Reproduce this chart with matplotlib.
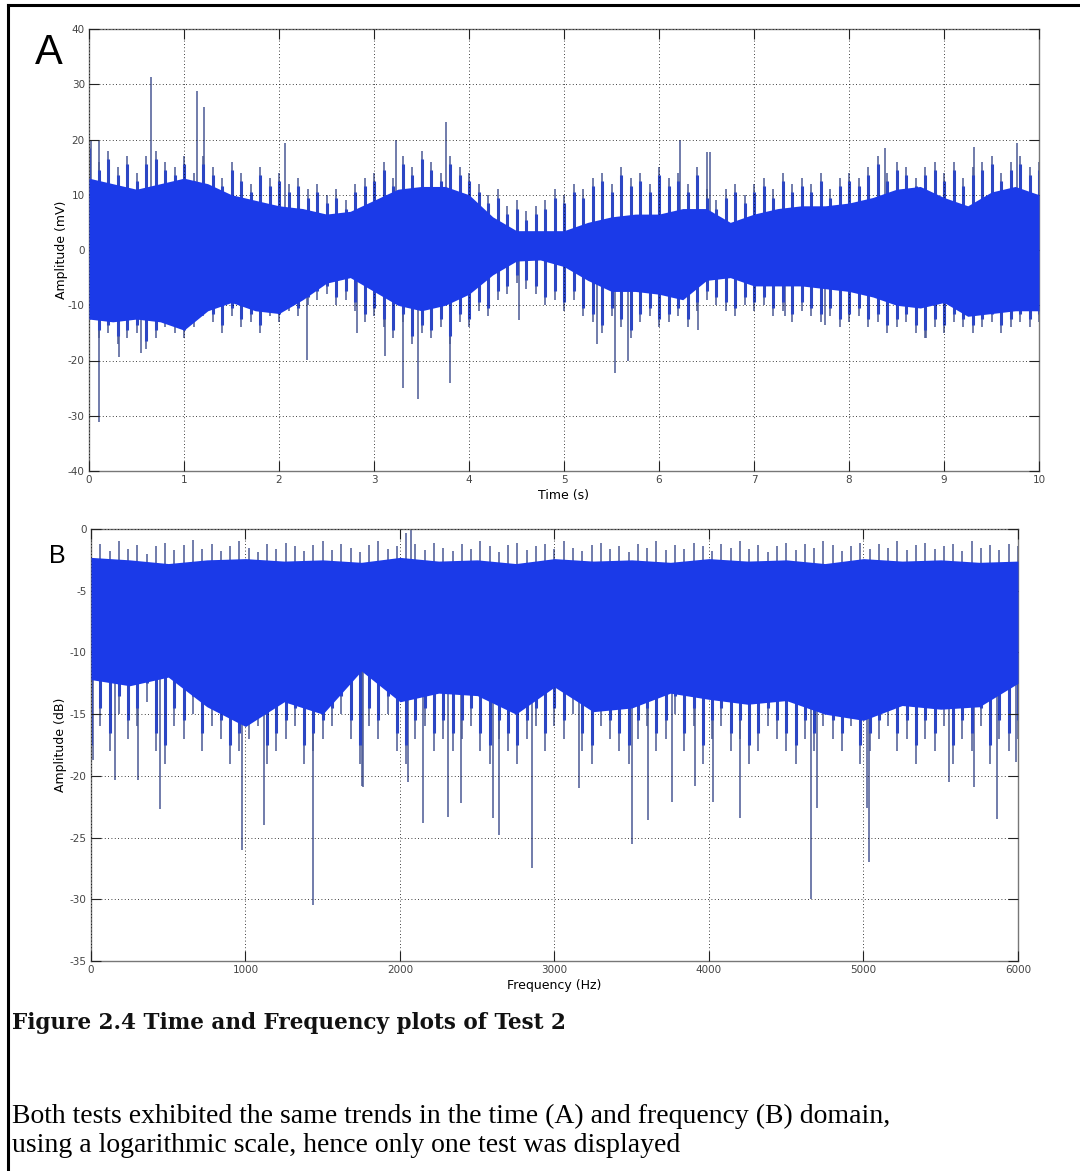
import numpy as np
import matplotlib
matplotlib.use("Agg")
import matplotlib.pyplot as plt
from matplotlib.lines import Line2D

plt.rcParams['axes.unicode_minus'] = False

# ---------------- data ----------------
# Panel A: time signal envelope, t = 0..10 step 0.25 s
a_core_t = [i * 0.25 for i in range(41)]
a_core_top = [13, 12, 11, 12, 13, 12, 10, 9, 8, 7.5, 6.5, 7, 9, 11, 11.5, 11.5, 10, 6, 3.5, 3.5,
              3.5, 5, 6, 6.5, 6.5, 7.5, 7.5, 5, 6.5, 7.5, 8, 8, 8.5, 9.5, 11, 11.5, 9.5, 8, 10.5, 11.5, 10]
a_core_bot = [-12.5, -13, -12.5, -13, -14.5, -11, -9.5, -11, -11.5, -9, -6, -5, -7.5, -10, -11, -10,
              -8, -4.5, -2, -1.8, -3, -5.5, -7.5, -7.5, -8, -9, -5.5, -5, -6.5, -6.5, -6.5, -7, -7.5,
              -8.5, -10, -10.5, -9.5, -12, -11.5, -11, -11]
# fringe sample peaks, t = 0..10 step 0.1 s
a_fr_t = [i * 0.1 for i in range(101)]
a_fr_top = [20, 16, 18, 15, 17, 14, 17, 18, 16, 15,
            17, 14, 17, 15, 13, 16, 14, 12, 15, 13,
            14, 12, 13, 11, 12, 10, 11, 9, 12, 13,
            14, 16, 13, 17, 15, 18, 16, 14, 17, 15,
            14, 12, 10, 11, 8, 9, 7, 8, 9, 11,
            10, 12, 11, 13, 14, 12, 15, 13, 14, 12,
            15, 13, 14, 12, 15, 11, 9, 11, 12, 10,
            12, 13, 11, 14, 12, 13, 12, 14, 11, 13,
            14, 13, 15, 17, 14, 16, 15, 13, 15, 16,
            14, 16, 13, 15, 16, 17, 14, 16, 17, 15,
            16]
a_fr_bot = [-14, -16, -15, -17, -16, -15, -18, -16, -14, -15,
            -16, -14, -12, -13, -15, -12, -14, -13, -15, -12,
            -13, -11, -12, -10, -9, -8, -10, -9, -11, -13,
            -12, -14, -16, -13, -17, -15, -16, -14, -17, -13,
            -14, -11, -12, -9, -8, -6, -7, -8, -10, -9,
            -11, -9, -12, -13, -15, -12, -14, -16, -13, -12,
            -14, -13, -12, -14, -11, -9, -10, -11, -12, -10,
            -11, -10, -12, -11, -13, -11, -12, -13, -12, -14,
            -13, -12, -14, -13, -15, -14, -13, -15, -16, -14,
            -15, -13, -14, -15, -14, -13, -15, -14, -13, -14,
            -13]
a_spike_t = [0.02, 0.1, 0.65, 1.14, 1.21, 2.06, 3.23, 3.76, 6.22, 6.5, 6.54, 8.38, 9.32, 9.77,
             0.105, 0.32, 0.55, 2.29, 2.82, 3.12, 3.3, 3.46, 3.8, 4.53, 5.35, 5.54, 5.67, 6.41,
             7.33, 7.75, 8.81]
a_spike_v = [19.8, 19.8, 31.3, 28.8, 25.8, 19.3, 20, 23.2, 20, 17.8, 17.8, 18.4, 18.7, 19.3,
             -31.2, -19.3, -18.6, -19.9, -15, -19.2, -25, -27, -24, -12.7, -17, -22.3, -20, -14.5,
             -12, -13.5, -16]

# Panel B: spectrum envelope, f = 0..6000 step 250 Hz
b_core_f = [i * 250 for i in range(25)]
b_core_top = [-2.3, -2.5, -2.8, -2.5, -2.4, -2.6, -2.5, -2.7, -2.3, -2.6, -2.5, -2.8, -2.4, -2.6,
              -2.5, -2.7, -2.4, -2.6, -2.5, -2.8, -2.4, -2.6, -2.5, -2.7, -2.6]
b_core_bot = [-12.2, -12.7, -12, -14.4, -16, -14, -15, -11.5, -14, -13.3, -13.5, -15, -12.8, -14.8,
              -14.5, -13.3, -13.8, -14.2, -13.9, -15, -15.5, -14.3, -14.6, -14.4, -12.5]
# fringe sample peaks, f = 0..6000 step 60 Hz
b_fr_f = [i * 60 for i in range(101)]
b_fr_top = [-1.5, -1.2, -1.8, -1.0, -1.6, -1.3, -2.0, -1.4, -1.1, -1.7,
            -1.3, -0.9, -1.6, -1.2, -1.8, -1.4, -1.0, -1.5, -1.9, -1.2,
            -1.6, -1.1, -1.4, -1.8, -1.3, -1.0, -1.7, -1.2, -1.5, -1.9,
            -1.3, -1.0, -1.6, -1.4, -0.3, -1.2, -1.7, -1.1, -1.5, -1.8,
            -1.2, -1.6, -1.0, -1.4, -1.9, -1.3, -1.1, -1.7, -1.4, -1.2,
            -1.6, -1.0, -1.5, -1.8, -1.3, -1.1, -1.6, -1.4, -1.9, -1.2,
            -1.5, -1.0, -1.7, -1.3, -1.6, -1.1, -1.4, -1.8, -1.2, -1.5,
            -1.0, -1.6, -1.3, -1.9, -1.4, -1.1, -1.7, -1.2, -1.5, -1.0,
            -1.3, -1.8, -1.4, -1.1, -1.6, -1.2, -1.5, -1.0, -1.7, -1.3,
            -1.1, -1.6, -1.4, -1.2, -1.8, -1.0, -1.5, -1.3, -1.7, -1.2,
            -1.4]
b_fr_bot = [-19, -16, -18, -15, -17, -16, -14, -18, -19, -16,
            -17, -15, -18, -16, -17, -19, -18, -17, -16, -19,
            -18, -17, -16, -19, -18, -17, -16, -15, -17, -19,
            -16, -17, -15, -18, -19, -17, -16, -18, -17, -18,
            -17, -16, -18, -19, -17, -18, -19, -17, -16, -18,
            -16, -17, -15, -18, -19, -16, -17, -18, -19, -17,
            -16, -18, -17, -15, -18, -16, -19, -17, -16, -18,
            -17, -19, -18, -16, -17, -18, -19, -17, -18, -16,
            -17, -18, -16, -19, -18, -17, -16, -18, -17, -19,
            -17, -18, -16, -19, -17, -18, -16, -19, -17, -18,
            -17]
b_spike_f = [10, 155, 305, 447, 975, 1120, 1440, 1752, 1760, 2050, 2151, 2308, 2395, 2604, 2643,
             2852, 3158, 3499, 3607, 3758, 3909, 4023, 4200, 4660, 4696, 5020, 5035, 5555, 5715,
             5866, 5990, 2070]
b_spike_v = [-18.7, -20.3, -20.3, -22.7, -26, -24, -30.5, -20.8, -20.9, -20.5, -23.8, -23.3, -22.2,
             -23.4, -24.8, -27.5, -21, -25.5, -23.6, -22.1, -20.8, -22.1, -23.4, -30, -22.6, -22.6,
             -27, -20.5, -20.9, -23.5, -18.9, 0]

a_xticks = list(range(0, 11))
a_yticks = list(range(-40, 41, 10))
b_xticks = list(range(0, 6001, 1000))
b_yticks = list(range(-35, 1, 5))

# ---------------- style ----------------
FILL = '#1b3ae8'
FRINGE = '#2c46c4'
LINE = '#4a5894'
W, H = 1080, 1171
fig = plt.figure(figsize=(W / 100, H / 100), dpi=100)
fig.patch.set_facecolor('white')


def ax_rect(l, t, r, b):
    return [l / W, 1 - b / H, (r - l) / W, (b - t) / H]


def style(ax, xt, yt, xlim, ylim):
    ax.set_xlim(*xlim)
    ax.set_ylim(*ylim)
    ax.set_xticks(xt)
    ax.set_yticks(yt)
    ax.grid(True, color='black', linestyle=(0, (1, 3)), linewidth=0.6)
    ax.tick_params(direction='in', length=7, width=0.8, colors='#222222', labelcolor='#444444',
                   labelsize=7.5, top=True, right=True, pad=3)
    for s in ax.spines.values():
        s.set_color('#777777')
        s.set_linewidth(1.0)
    ax.set_axisbelow(False)


# Panel A
axA = fig.add_axes(ax_rect(89, 29, 1039, 471))
axA.vlines(a_spike_t, 0, a_spike_v, color=LINE, linewidth=1.1, zorder=2)
axA.vlines(a_fr_t, 0, a_fr_top, color=LINE, linewidth=1.1, zorder=2)
axA.vlines(a_fr_t, 0, a_fr_bot, color=LINE, linewidth=1.1, zorder=2)
axA.vlines(a_fr_t, 0, [v - 1.5 for v in a_fr_top], color=FRINGE, linewidth=2.2, zorder=2.5)
axA.vlines(a_fr_t, 0, [v + 1.5 for v in a_fr_bot], color=FRINGE, linewidth=2.2, zorder=2.5)
axA.fill_between(a_core_t, a_core_bot, a_core_top, color=FILL, linewidth=0, zorder=3)
style(axA, a_xticks, a_yticks, (0, 10), (-40, 40))
axA.set_xlabel('Time (s)', fontsize=9, labelpad=3)
axA.set_ylabel('Amplitude (mV)', fontsize=9, labelpad=0)

# Panel B
axB = fig.add_axes(ax_rect(91, 529, 1018, 961))
mid = -7
axB.vlines(b_spike_f, mid, b_spike_v, color=LINE, linewidth=1.1, zorder=2)
axB.vlines(b_fr_f, mid, b_fr_top, color=LINE, linewidth=1.1, zorder=2)
axB.vlines(b_fr_f, mid, b_fr_bot, color=LINE, linewidth=1.1, zorder=2)
axB.vlines(b_fr_f, mid, [v + 1.5 for v in b_fr_bot], color=FRINGE, linewidth=2.2, zorder=2.5)
axB.fill_between(b_core_f, b_core_bot, b_core_top, color=FILL, linewidth=0, zorder=3)
style(axB, b_xticks, b_yticks, (0, 6000), (-35, 0))
axB.set_xlabel('Frequency (Hz)', fontsize=9, labelpad=3)
axB.set_ylabel('Amplitude (dB)', fontsize=9, labelpad=2)

# Panel letters
fig.text(49 / W, 1 - 53 / H, 'A', fontsize=30, ha='center', va='center', family='Liberation Sans')
fig.text(57 / W, 1 - 556 / H, 'B', fontsize=18, ha='center', va='center', family='Liberation Sans')

# Caption and body text
fig.text(12 / W, 1 - 1023 / H, 'Figure 2.4 Time and Frequency plots of Test 2', fontsize=15.5,
         fontweight='bold', family='DejaVu Serif', ha='left', va='center', color='#111111')
fig.text(12 / W, 1 - 1116 / H,
         'Both tests exhibited the same trends in the time (A) and frequency (B) domain,',
         fontsize=20, family='Liberation Serif', ha='left', va='center')
fig.text(12 / W, 1 - 1145 / H, 'using a logarithmic scale, hence only one test was displayed',
         fontsize=20, family='Liberation Serif', ha='left', va='center')

# Page frame
fig.add_artist(Line2D([8 / W, 1.0], [1 - 5 / H, 1 - 5 / H], color='black', linewidth=2.2))
fig.add_artist(Line2D([8 / W, 8 / W], [1 - 5 / H, 0.0], color='black', linewidth=2.2))

fig.savefig('out.png', dpi=100)
